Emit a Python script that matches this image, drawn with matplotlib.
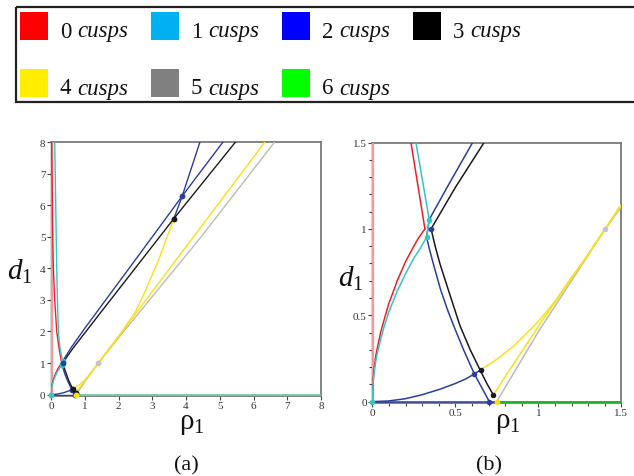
import matplotlib
matplotlib.use("Agg")
import matplotlib.pyplot as plt
from matplotlib.patches import Rectangle
from matplotlib.ticker import MultipleLocator, FixedLocator

plt.rcParams['mathtext.fontset'] = 'custom'
plt.rcParams['mathtext.rm'] = 'Liberation Serif'
plt.rcParams['mathtext.it'] = 'Liberation Serif:italic'
plt.rcParams['mathtext.bf'] = 'Liberation Serif:bold'
plt.rcParams['font.family'] = ['Liberation Serif', 'DejaVu Serif']

# ---------------- data (rho_1, d_1) ----------------
pink_rho = [0.0, 0.0]
pink_d = [0.0, 8.0]

red_low_rho = [0.0, 0.005, 0.01, 0.02, 0.03, 0.05, 0.07, 0.1, 0.12, 0.15, 0.2, 0.25, 0.28, 0.317]
red_low_d = [0.0, 0.13, 0.18, 0.26, 0.31, 0.40, 0.47, 0.57, 0.62, 0.70, 0.81, 0.90, 0.95, 1.0]
red_up_rho = [0.317, 0.233, 0.17, 0.11, 0.07, 0.05, 0.02]
red_up_d = [1.0, 1.5, 2.0, 3.0, 4.0, 5.0, 8.0]

cyan_low_rho = [0.0, 0.005, 0.01, 0.02, 0.03, 0.05, 0.07, 0.1, 0.15, 0.2, 0.25, 0.29, 0.327]
cyan_low_d = [0.0, 0.11, 0.16, 0.23, 0.28, 0.36, 0.43, 0.52, 0.64, 0.74, 0.83, 0.89, 0.952]
cyan_link_rho = [0.327, 0.343]
cyan_link_d = [0.952, 1.054]
cyan_up_rho = [0.343, 0.263, 0.22, 0.19, 0.17, 0.14, 0.11]
cyan_up_d = [1.054, 1.5, 2.0, 3.0, 4.0, 6.0, 8.0]

navy_long_rho = [0.343, 0.45, 0.604, 1.0, 2.0, 3.0, 3.89, 5.09]
navy_long_d = [1.054, 1.24, 1.5, 2.1, 3.55, 5.0, 6.3, 8.0]
navy_desc_rho = [0.343, 0.327, 0.345, 0.368, 0.41, 0.45, 0.49, 0.55, 0.615, 0.66, 0.705]
navy_desc_d = [1.054, 0.952, 0.88, 0.797, 0.653, 0.54, 0.44, 0.30, 0.16, 0.08, 0.0]
navy_parab_rho = [0.0, 0.1, 0.2, 0.3, 0.408, 0.5, 0.56, 0.615, 0.653]
navy_parab_d = [0.0, 0.004, 0.017, 0.04, 0.072, 0.105, 0.13, 0.16, 0.185]
navy_base_rho = [0.0, 0.749]
navy_base_d = [0.0, 0.0]
navy_steep_rho = [3.64, 3.89, 4.41]
navy_steep_d = [5.58, 6.3, 8.0]

black_line_rho = [0.354, 0.5, 0.673, 1.5, 3.64, 5.46]
black_line_d = [1.0, 1.24, 1.5, 2.64, 5.58, 8.0]
black_desc_rho = [0.354, 0.38, 0.408, 0.456, 0.528, 0.59, 0.649, 0.69, 0.729]
black_desc_d = [1.0, 0.895, 0.797, 0.653, 0.44, 0.30, 0.184, 0.105, 0.039]

yellow_curve_rho = [0.653, 0.75, 0.85, 0.95, 1.01, 1.1, 1.2, 1.27, 1.5, 2.04, 2.2, 2.5, 2.8, 3.2, 3.64]
yellow_curve_d = [0.185, 0.245, 0.32, 0.415, 0.475, 0.58, 0.72, 0.81, 1.14, 1.9, 2.15, 2.62, 3.3, 4.3, 5.58]
yellow_line_rho = [0.729, 1.01, 1.27, 1.5, 2.04, 6.33]
yellow_line_d = [0.039, 0.45, 0.81, 1.14, 1.9, 8.0]

gray_rho = [0.749, 1.01, 1.404, 2.04, 4.41, 6.62]
gray_d = [0.0, 0.42, 1.0, 1.85, 4.95, 8.0]

green_rho = [0.749, 8.0]
green_d = [0.0, 0.0]

cyan_dot_rho = [0.0, 0.343, 0.327]
cyan_dot_d = [0.0, 1.054, 0.952]
navy_dot_rho = [0.354, 0.615, 0.705, 3.89]
navy_dot_d = [1.0, 0.16, 0.0, 6.3]
black_dot_rho = [0.653, 0.729, 3.64]
black_dot_d = [0.185, 0.039, 5.58]
yellow_dot_rho = [0.749]
yellow_dot_d = [0.0]
gray_dot_rho = [1.404]
gray_dot_d = [1.0]

legend_labels = ['0', '1', '2', '3', '4', '5', '6']
legend_colors = ['#ff0000', '#00b0f0', '#0000ff', '#000000', '#ffee00', '#808080', '#00ff00']

left_ticks = [0, 1, 2, 3, 4, 5, 6, 7, 8]
right_ticks = [0, 0.5, 1, 1.5]
right_ticklabels = ['0', '0.5', '1', '1.5']

# ---------------- colours ----------------
C_RED = '#ee1f26'
C_PINK = '#f59a9a'
C_CYAN = '#36c4c4'
C_NAVY = '#2d3d9c'
C_BLACK = '#1a1a1a'
C_YEL = '#f7e11a'
C_GRAY = '#bdbcb0'

W, H = 634, 477
fig = plt.figure(figsize=(W / 100, H / 100), dpi=100)


def px_axes(x0, x1, ytop, ybot):
    return fig.add_axes([x0 / W, 1 - ybot / H, (x1 - x0) / W, (ybot - ytop) / H])


def draw(ax, xmax, green_col, lw, ms):
    ax.plot(pink_rho, pink_d, color=C_PINK, lw=2.4, zorder=2.6)
    ax.plot(green_rho, green_d, color=green_col, lw=lw + 0.3, zorder=3)
    ax.plot(gray_rho, gray_d, color=C_GRAY, lw=lw, zorder=3)
    ax.plot(yellow_line_rho, yellow_line_d, color=C_YEL, lw=lw, zorder=3.1)
    ax.plot(yellow_curve_rho, yellow_curve_d, color=C_YEL, lw=lw, zorder=3.1)
    ax.plot(navy_base_rho, navy_base_d, color=C_NAVY, lw=lw, zorder=3.2)
    ax.plot(navy_parab_rho, navy_parab_d, color=C_NAVY, lw=lw, zorder=3.2)
    ax.plot(navy_desc_rho, navy_desc_d, color=C_NAVY, lw=lw, zorder=3.2)
    ax.plot(navy_long_rho, navy_long_d, color=C_NAVY, lw=lw, zorder=3.2)
    ax.plot(navy_steep_rho, navy_steep_d, color=C_NAVY, lw=lw, zorder=3.2)
    ax.plot(black_line_rho, black_line_d, color=C_BLACK, lw=lw, zorder=3.3)
    ax.plot(black_desc_rho, black_desc_d, color=C_BLACK, lw=lw, zorder=3.3)
    ax.plot(red_low_rho, red_low_d, color=C_RED, lw=lw, zorder=3.4)
    ax.plot(red_up_rho, red_up_d, color=C_RED, lw=lw, zorder=3.4)
    ax.plot(cyan_low_rho, cyan_low_d, color=C_CYAN, lw=lw, zorder=3.5)
    ax.plot(cyan_link_rho, cyan_link_d, color=C_CYAN, lw=lw, zorder=3.5)
    ax.plot(cyan_up_rho, cyan_up_d, color=C_CYAN, lw=lw, zorder=3.5)
    for rr, dd, col in [(cyan_dot_rho, cyan_dot_d, C_CYAN), (navy_dot_rho, navy_dot_d, C_NAVY),
                        (black_dot_rho, black_dot_d, C_BLACK), (yellow_dot_rho, yellow_dot_d, C_YEL),
                        (gray_dot_rho, gray_dot_d, '#c4c4c4')]:
        sel = [(r, d) for r, d in zip(rr, dd) if r <= xmax and d <= xmax]
        if sel:
            ax.plot([s[0] for s in sel], [s[1] for s in sel], 'o', color=col, ms=ms,
                    mew=0, zorder=5, clip_on=False)
    for side in ['top', 'right', 'bottom']:
        ax.spines[side].set_color('#7a7a7a')
        ax.spines[side].set_linewidth(1.3)
    ax.spines['left'].set_color('#333333')
    ax.spines['left'].set_linewidth(1.0)
    ax.tick_params(which='both', direction='out', length=3, width=0.8, color='#444444',
                   labelsize=8, labelcolor='#333333', pad=1)
    ax.tick_params(which='minor', length=2)


# left panel (a)
axL = px_axes(51, 321, 143.3, 396.5)
draw(axL, 8.0, '#6fcf9e', 1.0, 4.2)
axL.set_xlim(0, 8)
axL.set_ylim(-0.03, 8)
axL.xaxis.set_major_locator(FixedLocator(left_ticks))
axL.yaxis.set_major_locator(FixedLocator(left_ticks))
axL.set_xticklabels([str(t) for t in left_ticks])
axL.set_yticklabels([str(t) for t in left_ticks])

# right panel (b)
axR = px_axes(372.3, 621.3, 143.6, 403.5)
draw(axR, 1.5, '#22b822', 1.1, 4.0)
axR.set_xlim(0, 1.5)
axR.set_ylim(-0.005, 1.5)
axR.xaxis.set_major_locator(FixedLocator(right_ticks))
axR.yaxis.set_major_locator(FixedLocator(right_ticks))
axR.set_xticklabels(right_ticklabels)
axR.set_yticklabels(right_ticklabels)
axR.xaxis.set_minor_locator(MultipleLocator(0.1))
axR.yaxis.set_minor_locator(MultipleLocator(0.1))

# overlay for legend / labels in pixel coordinates
lax = fig.add_axes([0, 0, 1, 1], zorder=10)
lax.set_xlim(0, W)
lax.set_ylim(H, 0)
lax.axis('off')

lax.add_patch(Rectangle((16, 8), 700, 95, fill=False, lw=1.6, ec='#222222', clip_on=False))
col_x = [20, 151, 282, 413]
row_y = [13, 70]
for i, (lab, col) in enumerate(zip(legend_labels, legend_colors)):
    x = col_x[i % 4]
    y = row_y[i // 4]
    lax.add_patch(Rectangle((x, y), 28, 28, fc=col, ec='none'))
    base = y + 24.5
    lax.text(x + 40, base, lab, fontsize=16.5, va='baseline', ha='left', color='#111111')
    lax.text(x + 57, base, 'cusps', fontsize=16.5, style='italic', va='baseline', ha='left',
             color='#111111')

# axis labels
lax.text(20, 272, r'$d_1$', fontsize=21, ha='center', va='center', color='#111111')
lax.text(351, 279, r'$d_1$', fontsize=21, ha='center', va='center', color='#111111')
lax.text(192, 424.5, r'$\mathrm{ρ}_1$', fontsize=21, ha='center', va='center', color='#111111')
lax.text(508, 423, r'$\mathrm{ρ}_1$', fontsize=21, ha='center', va='center', color='#111111')

# captions
lax.text(186, 466, '(a)', fontsize=16, ha='center', va='center', color='#111111')
lax.text(489, 466, '(b)', fontsize=16, ha='center', va='center', color='#111111')

fig.savefig('out.png', dpi=100)
